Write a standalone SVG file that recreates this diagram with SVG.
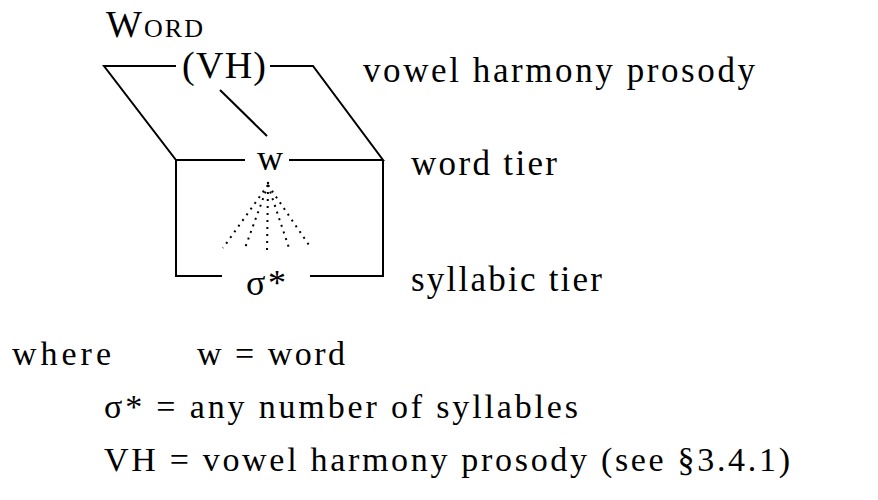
<svg xmlns="http://www.w3.org/2000/svg" width="878" height="500" viewBox="0 0 878 500">
<style>
text{font-family:"Liberation Serif","Times New Roman",serif;fill:#000}
.lbl{font-size:35px}
.leg{font-size:34px}
.ln{stroke:#000;stroke-width:2;fill:none}
.dot{stroke:#000;stroke-width:2;fill:none;stroke-dasharray:2 5}
</style>
<rect width="878" height="500" fill="#fff"/>
<g id="connectors">
<polyline class="ln" points="176,66 104,66 176,160 245,160"/>
<polyline class="ln" points="270,66 313,66 383,160 289,160"/>
<line class="ln" x1="220" y1="90" x2="267" y2="136"/>
<polyline class="ln" points="176,160 176,276 222,276"/>
<polyline class="ln" points="383,160 383,276 310,276"/>
<line class="dot" x1="268" y1="185" x2="223" y2="248"/>
<line class="dot" x1="268" y1="185" x2="245" y2="248"/>
<line class="dot" x1="268" y1="185" x2="267" y2="252"/>
<line class="dot" x1="268" y1="185" x2="289" y2="248"/>
<line class="dot" x1="268" y1="185" x2="311" y2="248"/>
<circle cx="268" cy="183" r="1.2" fill="#000"/>
</g>
<g id="word"><text x="106" y="37" font-size="38" textLength="97">W<tspan font-size="26">ORD</tspan></text></g>
<g id="vh"><text x="182" y="78" font-size="38" textLength="84">(VH)</text></g>
<g id="w"><text x="270" y="170" font-size="36" text-anchor="middle">w</text></g>
<g id="sigma"><text x="246" y="295" font-size="36" textLength="40">σ*</text></g>
<g id="labels">
<text x="363" y="82" class="lbl" textLength="392">vowel harmony prosody</text>
<text x="411" y="175" class="lbl" textLength="146">word tier</text>
<text x="411" y="291" class="lbl" textLength="191">syllabic tier</text>
</g>
<g id="legend">
<text x="12" y="365" class="leg" textLength="99">where</text>
<text x="197" y="365" class="leg" textLength="148">w = word</text>
<text x="104" y="418" class="leg" textLength="474">σ* = any number of syllables</text>
<text x="104" y="471" class="leg" textLength="686">VH = vowel harmony prosody (see §3.4.1)</text>
</g>
</svg>
